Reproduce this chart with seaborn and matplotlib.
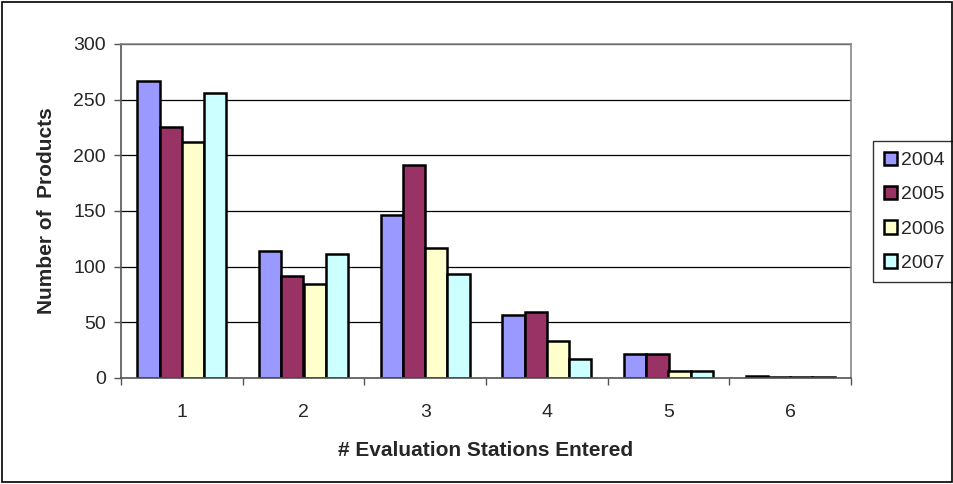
import matplotlib
matplotlib.use("Agg")
import matplotlib.pyplot as plt
import seaborn as sns
import pandas as pd
from matplotlib.patches import Rectangle

categories = ["1", "2", "3", "4", "5", "6"]
years = ["2004", "2005", "2006", "2007"]
v2004 = [267, 114, 146, 57, 22, 2]
v2005 = [225, 92, 191, 59, 22, 1]
v2006 = [212, 84, 117, 33, 6, 1]
v2007 = [256, 111, 93, 17, 6, 1]
colors = ["#9999FF", "#993366", "#FFFFCC", "#CCFFFF"]

rows = []
for y, vals in zip(years, [v2004, v2005, v2006, v2007]):
    for c, v in zip(categories, vals):
        rows.append({"cat": c, "year": y, "val": v})
df = pd.DataFrame(rows)

sns.set_style("white")
plt.rcParams['font.family'] = ['Liberation Sans', 'DejaVu Sans']

fig = plt.figure(figsize=(9.54, 4.84), dpi=100)
ax = fig.add_axes([121/954, 1-378/484, 730/954, 334/484])
sns.barplot(data=df, x="cat", y="val", hue="year", palette=colors, width=0.73,
            gap=0, edgecolor="black", linewidth=1.8, ax=ax, saturation=1)

ax.set_ylim(0, 300)
ax.set_xlim(-0.5, 5.5)
ax.set_yticks(range(0, 301, 50))
ax.yaxis.grid(True, color="black", linewidth=0.9)
ax.set_axisbelow(True)
for s in ["top", "right"]:
    ax.spines[s].set_color("#888888")
    ax.spines[s].set_linewidth(1.2)
for s in ["left", "bottom"]:
    ax.spines[s].set_color("#555555")
    ax.spines[s].set_linewidth(1.2)
ax.tick_params(axis="y", direction="out", length=5, width=1, color="#555555", labelsize=14, pad=6, left=True)
ax.set_xticks([i for i in range(6)])
ax.set_xticklabels(categories)
ax.set_xticks([i - 0.5 for i in range(7)], minor=True)
ax.tick_params(axis="x", which="major", length=0, labelsize=14, pad=19)
ax.tick_params(axis="x", which="minor", direction="out", length=5, width=1, color="#555555", bottom=True)
ax.set_xlabel("# Evaluation Stations Entered", fontsize=15, fontweight="bold", labelpad=14)
ax.set_ylabel("Number of  Products", fontsize=15, fontweight="bold", labelpad=12)

leg = ax.legend(loc="upper left", bbox_to_anchor=(873/954, 1-141/484), bbox_transform=fig.transFigure,
                frameon=True, fancybox=False, edgecolor="black", fontsize=14,
                handlelength=0.7, handleheight=0.7, handletextpad=0.2, labelspacing=0.85,
                borderpad=0.55, borderaxespad=0)
leg.get_frame().set_linewidth(1)

fig.patches.append(Rectangle((2/954, 2/484), 950/954, 480/484, transform=fig.transFigure,
                             fill=False, edgecolor="black", linewidth=1.2))
fig.savefig("out.png", dpi=100)
